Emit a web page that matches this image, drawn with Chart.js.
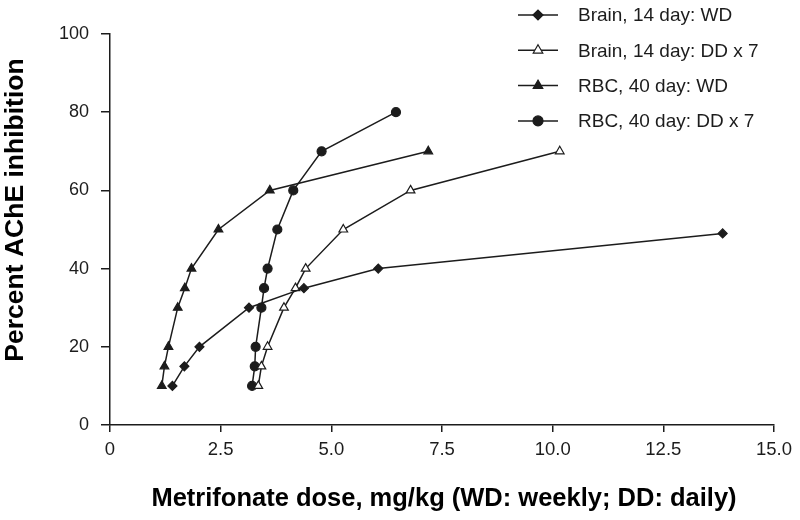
<!DOCTYPE html>
<html lang="en">
<head>
  <meta charset="UTF-8" />
  <title>AChE inhibition vs metrifonate dose</title>
  <script src="https://cdn.jsdelivr.net/npm/chart.js"></script>
  <style>
    * { margin: 0; padding: 0; box-sizing: border-box; }
    body { background: #fff; }
    .wrap { width: 800px; height: 520px; }
  </style>
</head>
<body>
  <div class="wrap"><canvas id="chart" width="800" height="520"></canvas></div>

  <script>
    // values (dose mg/kg, % inhibition)
    const brainWdX = [1.41, 1.68, 2.02, 3.14, 4.38, 6.06, 13.84];
    const brainWdY = [10, 15, 20, 30, 35, 40, 49];
    const brainDdX = [3.35, 3.42, 3.56, 3.93, 4.19, 4.42, 5.27, 6.79, 10.16];
    const brainDdY = [10, 15, 20, 30, 35, 40, 50, 60, 70];
    const rbcWdX = [1.17, 1.23, 1.32, 1.53, 1.69, 1.84, 2.45, 3.61, 7.19];
    const rbcWdY = [10, 15, 20, 30, 35, 40, 50, 60, 70];
    const rbcDdX = [3.21, 3.27, 3.29, 3.42, 3.48, 3.56, 3.78, 4.14, 4.78, 6.46];
    const rbcDdY = [10, 15, 20, 30, 35, 40, 50, 60, 70, 80];

    const seriesLabels = ['Brain, 14 day: WD', 'Brain, 14 day: DD x 7', 'RBC, 40 day: WD', 'RBC, 40 day: DD x 7'];
    const xTicks = [0, 2.5, 5, 7.5, 10, 12.5, 15];
    const yTicks = [0, 20, 40, 60, 80, 100];
    const xTitle = 'Metrifonate dose, mg/kg (WD: weekly; DD: daily)';
    const yTitle = 'Percent AChE inhibition';

    const ink = '#1c1c1c';
    const pts = (xs, ys) => xs.map((x, i) => ({ x: x, y: ys[i] }));

    function series(label, xs, ys, style, radius, fill) {
      return {
        label: label,
        data: pts(xs, ys),
        showLine: true,
        borderColor: ink,
        borderWidth: 1.5,
        pointStyle: style,
        pointRadius: radius,
        pointBackgroundColor: fill,
        pointBorderColor: ink,
        pointBorderWidth: 1.2
      };
    }

    // legend + axis titles drawn by hand so they sit where the figure has them
    const decor = {
      id: 'decor',
      afterDraw(chart) {
        const ctx = chart.ctx;
        ctx.save();
        chart.data.datasets.forEach((ds, i) => {
          const y = 15 + i * 35.3;
          ctx.strokeStyle = ink;
          ctx.lineWidth = 1.5;
          ctx.beginPath();
          ctx.moveTo(518, y);
          ctx.lineTo(558, y);
          ctx.stroke();
          ctx.fillStyle = ds.pointBackgroundColor;
          ctx.strokeStyle = ink;
          ctx.lineWidth = ds.pointBorderWidth;
          Chart.helpers.drawPoint(ctx, { pointStyle: ds.pointStyle, radius: ds.pointRadius + 0.5, borderWidth: ds.pointBorderWidth }, 538, y);
          ctx.fillStyle = ink;
          ctx.font = '19px "Liberation Sans", Arial, sans-serif';
          ctx.textAlign = 'left';
          ctx.textBaseline = 'middle';
          ctx.fillText(ds.label, 578, y + 1);
        });

        ctx.fillStyle = '#000';
        ctx.font = 'bold 25.5px "Liberation Sans", Arial, sans-serif';
        ctx.textAlign = 'center';
        ctx.textBaseline = 'alphabetic';
        ctx.fillText(xTitle, 444, 506);

        ctx.translate(23, 210);
        ctx.rotate(-Math.PI / 2);
        ctx.font = 'bold 26.5px "Liberation Sans", Arial, sans-serif';
        ctx.fillText(yTitle, 0, 0);
        ctx.restore();
      }
    };

    new Chart(document.getElementById('chart'), {
      type: 'scatter',
      data: {
        datasets: [
          series(seriesLabels[0], brainWdX, brainWdY, 'rectRot', 4.5, ink),
          series(seriesLabels[1], brainDdX, brainDdY, 'triangle', 5, '#fff'),
          series(seriesLabels[2], rbcWdX, rbcWdY, 'triangle', 5, ink),
          series(seriesLabels[3], rbcDdX, rbcDdY, 'circle', 4.5, ink)
        ]
      },
      options: {
        responsive: false,
        animation: false,
        layout: { padding: { top: 34, right: 26, left: 0, bottom: 0 } },
        plugins: { legend: { display: false }, tooltip: { enabled: false } },
        scales: {
          x: {
            type: 'linear',
            min: 0,
            max: 15,
            afterFit: s => { s.height = 95; },
            afterBuildTicks: s => { s.ticks = xTicks.map(v => ({ value: v })); },
            ticks: {
              color: ink,
              padding: 7,
              maxRotation: 0,
              font: { family: '"Liberation Sans", Arial, sans-serif', size: 18.5 },
              callback: v => (v === 0 ? '0' : v.toFixed(1))
            },
            grid: { drawOnChartArea: false, tickLength: 7, color: ink, lineWidth: 1.5 },
            border: { color: ink, width: 1.5 }
          },
          y: {
            type: 'linear',
            min: 0,
            max: 100,
            afterFit: s => { s.width = 110; },
            afterBuildTicks: s => { s.ticks = yTicks.map(v => ({ value: v })); },
            ticks: {
              color: ink,
              padding: 12,
              font: { family: '"Liberation Sans", Arial, sans-serif', size: 18 }
            },
            grid: { drawOnChartArea: false, tickLength: 9, color: ink, lineWidth: 1.5 },
            border: { color: ink, width: 1.5 }
          }
        }
      },
      plugins: [decor]
    });
  </script>
</body>
</html>
